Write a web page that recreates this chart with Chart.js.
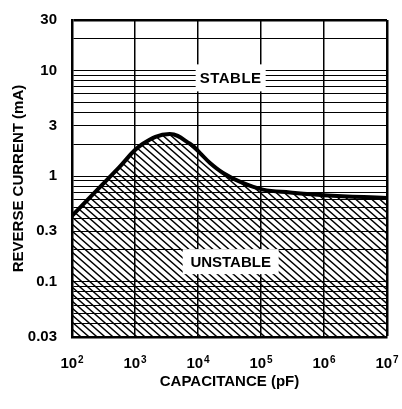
<!DOCTYPE html>
<html>
<head>
<meta charset="utf-8">
<script src="https://cdn.jsdelivr.net/npm/chart.js@4/dist/chart.umd.min.js"></script>
<style>
html,body{margin:0;padding:0;background:#fff;}
#c{display:block;}
</style>
</head>
<body>
<canvas id="c" width="402" height="409" style="width:402px;height:409px"></canvas>
<script>
// ---- Data ----
const capacitancePF = [100, 560, 1300, 3550, 7460, 10700, 15500, 25000, 47000, 107000, 290000, 1000000, 10000000];
const reverseCurrentMA = [0.42, 1.21, 2.0, 2.5, 2.02, 1.66, 1.33, 1.07, 0.88, 0.745, 0.70, 0.66, 0.62];
const xTickValues = [1e2, 1e3, 1e4, 1e5, 1e6, 1e7];
const xTickBase = '10';
const xTickExponents = ['2', '3', '4', '5', '6', '7'];
const yGridValues = [0.03,0.04,0.05,0.06,0.07,0.08,0.09,0.1,0.2,0.3,0.4,0.5,0.6,0.7,0.8,0.9,1,2,3,4,5,6,7,8,9,10,20,30];
const yTickLabels = {0.03:'0.03', 0.1:'0.1', 0.3:'0.3', 1:'1', 3:'3', 10:'10', 30:'30'};
const regionLabels = [
  {text:'STABLE', x:33000, y:8.5, w:70, h:27, spacing:'0.5px'},
  {text:'UNSTABLE', x:33000, y:0.155, w:96, h:25, spacing:'0px'}
];

const FONT = "'Liberation Sans','Arial',sans-serif";

function hatchPattern(){
  const w = 8, h = 7;
  const c = document.createElement('canvas');
  c.width = w; c.height = h;
  const g = c.getContext('2d');
  g.strokeStyle = '#000';
  g.lineWidth = 1.4;
  g.beginPath();
  g.moveTo(-w,-h); g.lineTo(2*w,2*h);
  g.moveTo(0,-h); g.lineTo(2*w,h);
  g.moveTo(-w,0); g.lineTo(w,2*h);
  g.stroke();
  return g.createPattern(c,'repeat');
}

const labelPlugin = {
  id:'regionLabels',
  afterDatasetsDraw(chart){
    const ctx = chart.ctx;
    const xs = chart.scales.x, ys = chart.scales.y;
    ctx.save();
    regionLabels.forEach(l=>{
      const px = xs.getPixelForValue(l.x), py = ys.getPixelForValue(l.y);
      ctx.fillStyle = '#fff';
      ctx.fillRect(px - l.w/2, py - l.h/2, l.w, l.h);
      ctx.fillStyle = '#000';
      ctx.font = 'bold 15px ' + FONT;
      try { ctx.letterSpacing = l.spacing; } catch(e){}
      ctx.textAlign = 'center';
      ctx.textBaseline = 'middle';
      ctx.fillText(l.text, px, py + 1);
    });
    ctx.restore();
  }
};

// x tick labels as "10" with a raised exponent, placed with the x scale
const powerTicksPlugin = {
  id:'powerTicks',
  afterDraw(chart){
    const ctx = chart.ctx;
    const xs = chart.scales.x;
    const base = xs.bottom - xs.height + 31; // baseline below plot
    ctx.save();
    ctx.fillStyle = '#000';
    ctx.textBaseline = 'alphabetic';
    ctx.textAlign = 'left';
    xTickValues.forEach((v,i)=>{
      const px = xs.getPixelForValue(v);
      ctx.font = 'bold 15px ' + FONT;
      const wb = ctx.measureText(xTickBase).width;
      ctx.font = 'bold 10px ' + FONT;
      const we = ctx.measureText(xTickExponents[i]).width;
      const x0 = px - (wb + we + 1)/2;
      ctx.font = 'bold 15px ' + FONT;
      ctx.fillText(xTickBase, x0, base);
      ctx.font = 'bold 10px ' + FONT;
      ctx.fillText(xTickExponents[i], x0 + wb + 1, base - 5);
    });
    ctx.restore();
  }
};

const ctx = document.getElementById('c').getContext('2d');
new Chart(ctx, {
  type:'line',
  data:{
    datasets:[{
      data: capacitancePF.map((c,i)=>({x:c, y:reverseCurrentMA[i]})),
      borderColor:'#000',
      borderWidth:4,
      pointRadius:0,
      tension:0.4,
      fill:'start',
      backgroundColor: hatchPattern()
    }]
  },
  options:{
    responsive:false,
    devicePixelRatio:1,
    animation:false,
    layout:{padding:{top:20, right:15, left:0, bottom:0}},
    plugins:{legend:{display:false}, tooltip:{enabled:false}},
    scales:{
      x:{
        type:'logarithmic',
        min:1e2, max:1e7,
        afterBuildTicks(s){ s.ticks = xTickValues.map(v=>({value:v})); },
        afterFit(s){ s.height = 72; s.paddingLeft = 0; s.paddingRight = 0; },
        ticks:{ display:false, autoSkip:false, maxRotation:0 },
        grid:{
          color:'#000', drawTicks:false,
          lineWidth(c){ return (c.index===xTickValues.length-1) ? 2.5 : 1.5; }
        },
        border:{display:true, color:'#000', width:2.5},
        title:{display:true, text:'CAPACITANCE (pF)', color:'#000',
          font:{family:FONT, size:15, weight:'bold'}, padding:{top:0,bottom:18}}
      },
      y:{
        type:'logarithmic',
        min:0.03, max:30,
        afterBuildTicks(s){ s.ticks = yGridValues.map(v=>({value:v})); },
        afterFit(s){ s.width = 72; s.paddingTop = 0; s.paddingBottom = 0; },
        ticks:{
          autoSkip:false, color:'#000', padding:15,
          font:{family:FONT, size:15, weight:'bold'},
          callback(v){ return yTickLabels[v] !== undefined ? yTickLabels[v] : ''; }
        },
        grid:{
          color:'#000', drawTicks:false,
          lineWidth(c){ return (c.index===yGridValues.length-1) ? 2.5 : 1; }
        },
        border:{display:true, color:'#000', width:2.5},
        title:{display:true, text:'REVERSE CURRENT (mA)', color:'#000',
          font:{family:FONT, size:15, weight:'bold'}, padding:{top:10,bottom:0}}
      }
    }
  },
  plugins:[labelPlugin, powerTicksPlugin]
});
</script>
</body>
</html>
